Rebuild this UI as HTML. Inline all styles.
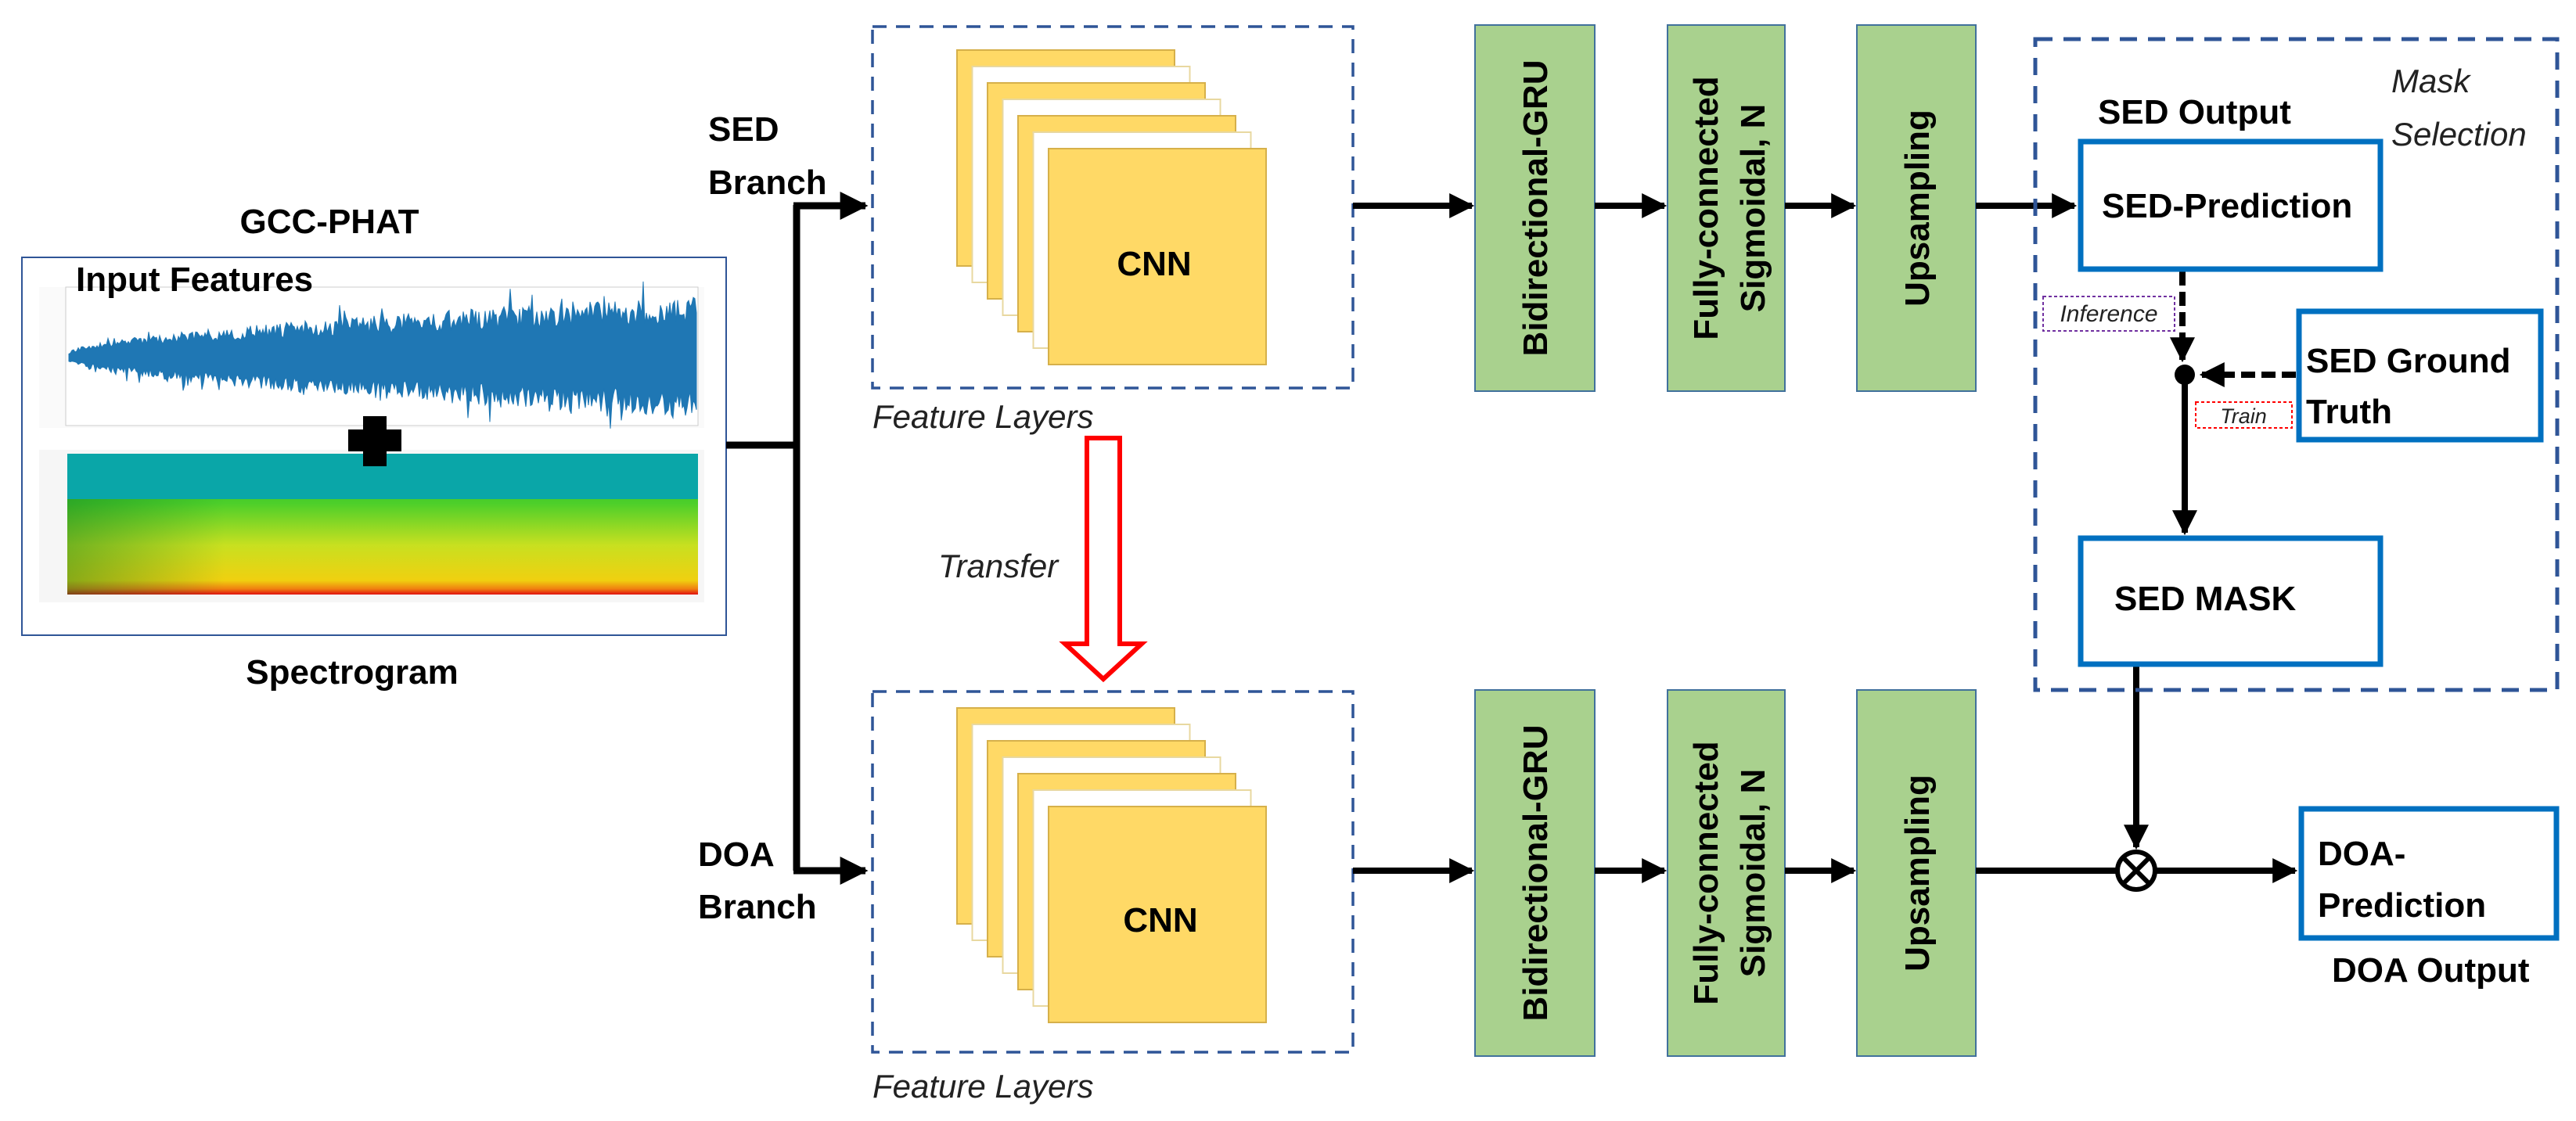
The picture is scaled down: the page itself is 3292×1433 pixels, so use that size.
<!DOCTYPE html>
<html><head><meta charset="utf-8"><style>
html,body{margin:0;padding:0;background:#fff;}
svg{display:block;}
text{font-family:"Liberation Sans",sans-serif;}
.b{font-weight:bold;font-size:44px;fill:#000;}
.i{font-style:italic;font-size:42px;fill:#222;}
</style></head><body>
<svg width="3292" height="1433" viewBox="0 0 3292 1433" xmlns="http://www.w3.org/2000/svg">
<defs>
<marker id="ah" viewBox="0 0 10 10" refX="9" refY="5" markerWidth="4" markerHeight="4" orient="auto" markerUnits="strokeWidth"><path d="M0,0 L10,5 L0,10 z" fill="#000"/></marker>
<linearGradient id="spec" x1="0" y1="0" x2="0" y2="1">
<stop offset="0" stop-color="#1faa2a"/><stop offset="0.35" stop-color="#4ccf2a"/><stop offset="0.65" stop-color="#c8e020"/><stop offset="0.9" stop-color="#f0d010"/><stop offset="0.96" stop-color="#f08010"/><stop offset="1" stop-color="#e01010"/>
</linearGradient>
<linearGradient id="specL" x1="0" y1="0" x2="1" y2="0">
<stop offset="0" stop-color="#0a7a20" stop-opacity="0.45"/><stop offset="0.25" stop-color="#0a7a20" stop-opacity="0"/>
</linearGradient>
</defs>

<!-- Input box -->
<rect x="28" y="329" width="900" height="483" fill="#fff" stroke="#2F5597" stroke-width="2"/>
<rect x="50" y="367" width="850" height="180" fill="#fafafa"/>
<rect x="84" y="367" width="808" height="177" fill="#fff" stroke="#ccc" stroke-width="1"/>
<path id="wave" d="" fill="#1f77b4" stroke="#1f77b4" stroke-width="1"/>
<rect x="50" y="575" width="850" height="195" fill="#f6f6f6"/>
<rect x="86" y="580" width="806" height="180" fill="url(#spec)"/>
<rect x="86" y="580" width="806" height="180" fill="url(#specL)"/>
<rect x="86" y="580" width="806" height="58" fill="#0aa6a8"/>
<!-- plus -->
<rect x="464" y="532" width="30" height="64" fill="#000"/>
<rect x="445" y="549" width="68" height="28" fill="#000"/>
<text class="b" x="421" y="298" text-anchor="middle">GCC-PHAT</text>
<text class="b" x="97" y="372">Input Features</text>
<text class="b" x="450" y="874" text-anchor="middle">Spectrogram</text>

<!-- trunk -->
<g stroke="#000" stroke-width="9" fill="none">
<line x1="928" y1="569" x2="1018" y2="569"/>
<line x1="1018" y1="262" x2="1018" y2="1113"/>
<line x1="1014" y1="263" x2="1106" y2="263" marker-end="url(#ah)"/>
<line x1="1014" y1="1113" x2="1106" y2="1113" marker-end="url(#ah)"/>
</g>
<text class="b" x="905" y="180">SED</text>
<text class="b" x="905" y="248">Branch</text>
<text class="b" x="892" y="1107">DOA</text>
<text class="b" x="892" y="1174">Branch</text>

<!-- dashed feature boxes -->
<rect x="1115" y="34" width="614" height="462" fill="none" stroke="#2F5597" stroke-width="3.5" stroke-dasharray="18,12"/>
<rect x="1115" y="884" width="614" height="461" fill="none" stroke="#2F5597" stroke-width="3.5" stroke-dasharray="18,12"/>
<g id="stack1"></g>
<text class="b" x="1475" y="352" text-anchor="middle">CNN</text>
<text class="b" x="1483" y="1191" text-anchor="middle">CNN</text>
<text class="i" x="1115" y="547">Feature Layers</text>
<text class="i" x="1115" y="1403">Feature Layers</text>
<text class="i" x="1199" y="738">Transfer</text>
<!-- red arrow -->
<path d="M1389,560 L1431,560 L1431,823 L1459,823 L1410,868 L1361,823 L1389,823 Z" fill="#fff" stroke="#f00" stroke-width="6"/>

<!-- green boxes -->
<g fill="#A9D18E" stroke="#41719C" stroke-width="2">
<rect x="1885" y="32" width="153" height="468"/>
<rect x="2131" y="32" width="150" height="468"/>
<rect x="2373" y="32" width="152" height="468"/>
<rect x="1885" y="882" width="153" height="468"/>
<rect x="2131" y="882" width="150" height="468"/>
<rect x="2373" y="882" width="152" height="468"/>
</g>
<g class="b">
<text class="b" transform="translate(1977,266) rotate(-90)" text-anchor="middle">Bidirectional-GRU</text>
<text class="b" transform="translate(2195,266) rotate(-90)" text-anchor="middle">Fully-connected</text>
<text class="b" transform="translate(2255,266) rotate(-90)" text-anchor="middle">Sigmoidal, N</text>
<text class="b" transform="translate(2465,266) rotate(-90)" text-anchor="middle">Upsampling</text>
<text class="b" transform="translate(1977,1116) rotate(-90)" text-anchor="middle">Bidirectional-GRU</text>
<text class="b" transform="translate(2195,1116) rotate(-90)" text-anchor="middle">Fully-connected</text>
<text class="b" transform="translate(2255,1116) rotate(-90)" text-anchor="middle">Sigmoidal, N</text>
<text class="b" transform="translate(2465,1116) rotate(-90)" text-anchor="middle">Upsampling</text>
</g>

<!-- arrows between -->
<g stroke="#000" stroke-width="8" fill="none">
<line x1="1729" y1="263" x2="1881" y2="263" marker-end="url(#ah)"/>
<line x1="2038" y1="263" x2="2127" y2="263" marker-end="url(#ah)"/>
<line x1="2281" y1="263" x2="2369" y2="263" marker-end="url(#ah)"/>
<line x1="2525" y1="263" x2="2651" y2="263" marker-end="url(#ah)"/>
<line x1="1729" y1="1113" x2="1881" y2="1113" marker-end="url(#ah)"/>
<line x1="2038" y1="1113" x2="2127" y2="1113" marker-end="url(#ah)"/>
<line x1="2281" y1="1113" x2="2369" y2="1113" marker-end="url(#ah)"/>
<line x1="2525" y1="1113" x2="2704" y2="1113"/>
<line x1="2756" y1="1113" x2="2933" y2="1113" marker-end="url(#ah)"/>
<line x1="2730" y1="852" x2="2730" y2="1083" marker-end="url(#ah)"/>
<line x1="2792" y1="479" x2="2792" y2="681" marker-end="url(#ah)"/>
<line x1="2789" y1="347" x2="2789" y2="460" stroke-dasharray="18,8" marker-end="url(#ah)"/>
<line x1="2934" y1="479" x2="2814" y2="479" stroke-dasharray="18,8" marker-end="url(#ah)"/>
</g>
<circle cx="2792" cy="479" r="13" fill="#000"/>
<circle cx="2730" cy="1113" r="24" fill="#fff" stroke="#000" stroke-width="6"/>
<line x1="2713" y1="1096" x2="2747" y2="1130" stroke="#000" stroke-width="6"/>
<line x1="2747" y1="1096" x2="2713" y2="1130" stroke="#000" stroke-width="6"/>

<!-- mask selection -->
<rect x="2601" y="50" width="667" height="832" fill="none" stroke="#2F5597" stroke-width="5" stroke-dasharray="22,14"/>
<g fill="#fff" stroke="#0070C0" stroke-width="7">
<rect x="2659" y="181" width="383" height="163"/>
<rect x="2938" y="398" width="309" height="164"/>
<rect x="2659" y="688" width="383" height="161"/>
<rect x="2941" y="1034" width="326" height="165"/>
</g>
<text class="b" x="2681" y="158">SED Output</text>
<text class="i" x="3056" y="118">Mask</text>
<text class="i" x="3056" y="186">Selection</text>
<text class="b" x="2686" y="278">SED-Prediction</text>
<text class="b" x="2947" y="476">SED Ground</text>
<text class="b" x="2947" y="541">Truth</text>
<text class="b" x="2702" y="780">SED MASK</text>
<text class="b" x="2962" y="1106">DOA-</text>
<text class="b" x="2962" y="1172">Prediction</text>
<text class="b" x="2980" y="1255">DOA Output</text>
<rect x="2611" y="379" width="168" height="44" fill="#fff" stroke="#7030A0" stroke-width="2" stroke-dasharray="4,3"/>
<text x="2695" y="411" text-anchor="middle" style="font-style:italic;font-size:30px;fill:#222">Inference</text>
<rect x="2806" y="514" width="123" height="33" fill="#fff" stroke="#f00" stroke-width="2" stroke-dasharray="4,3"/>
<text x="2867" y="541" text-anchor="middle" style="font-style:italic;font-size:27px;fill:#222">Train</text>
</svg>
<script>
(function(){
var ns="http://www.w3.org/2000/svg";
var svg=document.querySelector('svg');
var g=document.getElementById('stack1');
function stack(oy){
  for(var k=0;k<7;k++){
    var r=document.createElementNS(ns,'rect');
    r.setAttribute('x',1223+k*19.5);r.setAttribute('y',oy+k*21);
    r.setAttribute('width',278);r.setAttribute('height',276);
    r.setAttribute('fill',k%2==0?'#FFD966':'#fff');
    r.setAttribute('stroke',k%2==0?'#D6B04A':'#E8D8A0');r.setAttribute('stroke-width',2);
    g.appendChild(r);
  }
}
stack(64);stack(905);
// move CNN text above (texts are later in document, already on top)
var s=12345;function rnd(){s=(s*16807)%2147483647;return s/2147483647;}
var top=[],bot=[],cy=456;
for(var x=88;x<=890;x+=2){
  var t=(x-88)/802;var a=6+72*Math.pow(t,0.6);
  var u=a*(0.55+0.45*rnd())+(rnd()<0.08?a*0.5*rnd():0);
  var d=a*(0.55+0.45*rnd())+(rnd()<0.08?a*0.5*rnd():0);
  top.push(x+','+(cy-u).toFixed(1));bot.unshift(x+','+(cy+d).toFixed(1));
}
document.getElementById('wave').setAttribute('d','M'+top.join(' L')+' L'+bot.join(' L')+'Z');
})();
</script>
</body></html>
